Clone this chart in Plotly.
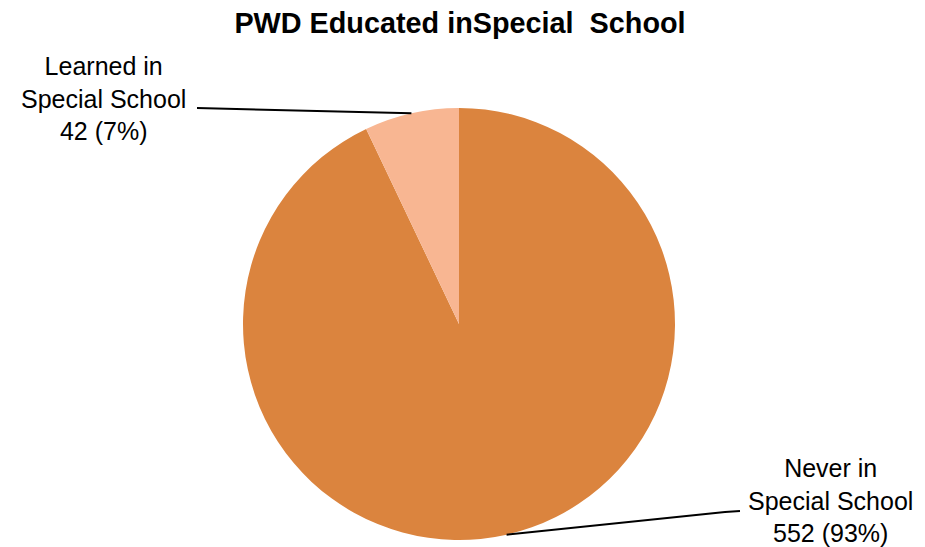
import math
import plotly.graph_objects as go

# ---- data ----
categories = ["Never in<br>Special School", "Learned in<br>Special School"]
counts = [552, 42]
colors = ["#DB843E", "#F8B692"]
title_text = "PWD Educated inSpecial\u00a0 School"

OFF = 8                      # page body margin in the browser
W, H = 925 - OFF, 547 - OFF  # figure size so it fits the window
cx, cy, r = 459, 324, 216    # pie geometry in screenshot pixels

def px(x):
    return (x - OFF) / W

def py(y):
    return 1 - (y - OFF) / H

fig = go.Figure(go.Pie(
    labels=categories,
    values=counts,
    sort=False,
    direction="clockwise",
    rotation=0,
    marker=dict(colors=colors, line=dict(width=0)),
    textinfo="none",
    hoverinfo="label+value+percent",
    showlegend=False,
    domain=dict(x=[px(cx - r), px(cx + r)], y=[py(cy + r), py(cy - r)]),
))

total = sum(counts)
cum = 0
mids = []
for v in counts:
    mids.append((cum + v / 2) / total * 2 * math.pi)
    cum += v

def edge(a):
    return cx + r * math.sin(a), cy - r * math.cos(a)

label_font = dict(family="Liberation Sans, Arial, sans-serif", size=25, color="#000000")

# label placements (screenshot pixels): text center, leader line points
placements = [
    dict(tx=830, ty=500, path=[(740, 511), (725, 512)]),
    dict(tx=103, ty=98, path=[(197, 108)]),
]

annotations = []
shapes = []
for cat, v, mid, pl in zip(categories, counts, mids, placements):
    pct = round(v / total * 100)
    annotations.append(dict(
        text=f"{cat}<br>{v} ({pct}%)",
        x=px(pl["tx"]), y=py(pl["ty"]), xref="paper", yref="paper",
        xanchor="center", yanchor="middle", showarrow=False,
        align="center", font=label_font,
    ))
    ex, ey = edge(mid)
    pts = pl["path"] + [(ex, ey)]
    d = "M " + " L ".join(f"{px(x)} {py(y)}" for x, y in pts)
    shapes.append(dict(type="path", path=d, xref="paper", yref="paper",
                       line=dict(color="#000000", width=2)))

fig.update_layout(
    width=W, height=H,
    margin=dict(l=0, r=0, t=0, b=0),
    paper_bgcolor="white", plot_bgcolor="white",
    title=dict(text=f"<b>{title_text}</b>", x=px(460), xanchor="center",
               y=py(23), yanchor="middle",
               font=dict(family="Liberation Sans, Arial, sans-serif", size=28.8, color="#000000")),
    annotations=annotations,
    shapes=shapes,
)

fig.write_html("out.html")
